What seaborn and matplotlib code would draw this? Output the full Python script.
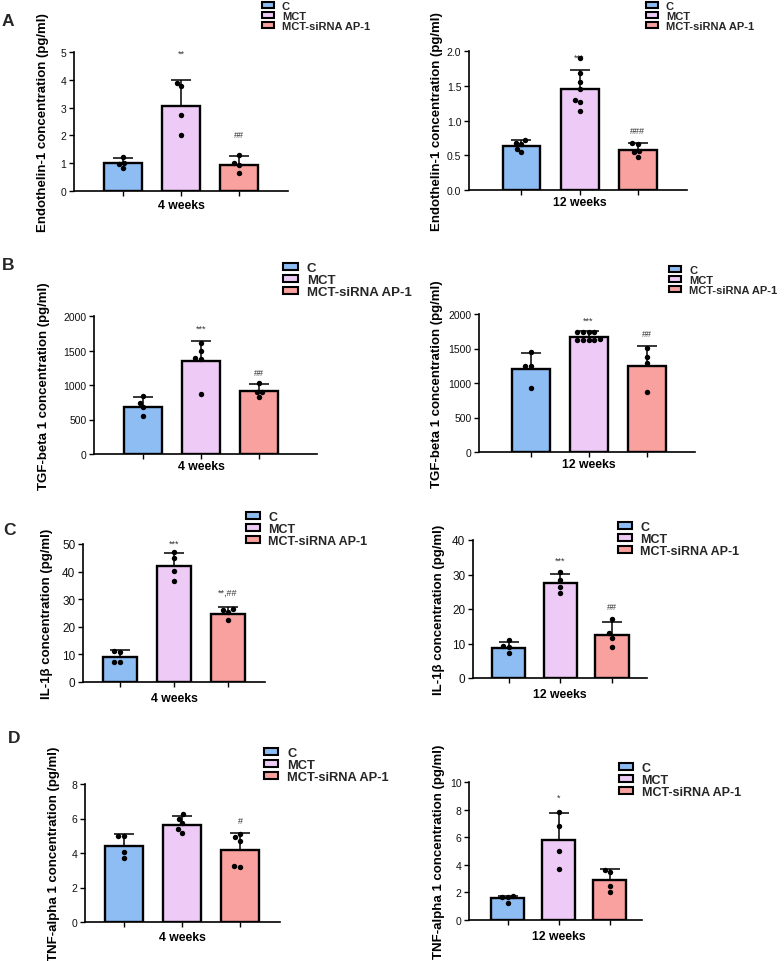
import numpy as np
import pandas as pd
import matplotlib
matplotlib.use("Agg")
import matplotlib.pyplot as plt
import matplotlib.transforms as mtransforms
import seaborn as sns
from matplotlib.patches import Patch
from matplotlib.ticker import FormatStrFormatter, MultipleLocator

sns.set_theme(style="ticks")
plt.rcParams['font.family'] = ['Liberation Sans', 'DejaVu Sans']

# ---------------- data ----------------
groups = ["C", "MCT", "MCT-siRNA AP-1"]
colors = ["#8EBDF4", "#EECBF6", "#F8A19E"]

# A: Endothelin-1, 4 weeks
a1_means = [0.99, 3.06, 0.94]
a1_sd = [0.19, 0.93, 0.33]
a1_pts_c = [1.02, 1.24, 0.96, 0.82]
a1_pts_m = [3.88, 3.76, 2.75, 2.01]
a1_pts_s = [1.30, 1.00, 0.94, 0.66]
a1_marks = ["", "**", "##"]

# A: Endothelin-1, 12 weeks
a2_means = [0.636, 1.455, 0.573]
a2_sd = [0.084, 0.275, 0.097]
a2_pts_c = [0.72, 0.68, 0.59, 0.54, 0.66]
a2_pts_m = [1.90, 1.69, 1.55, 1.45, 1.30, 1.26, 1.13]
a2_pts_s = [0.56, 0.67, 0.54, 0.66, 0.48]
a2_marks = ["", "***", "###"]

# B: TGF-beta 1, 4 weeks
b1_means = [684, 1345, 916]
b1_sd = [135, 294, 101]
b1_pts_c = [834, 737, 675, 554]
b1_pts_m = [1614, 1494, 1398, 1383, 867]
b1_pts_s = [1036, 905, 901, 829]
b1_marks = ["", "***", "##"]

# B: TGF-beta 1, 12 weeks
b2_means = [1210, 1667, 1248]
b2_sd = [231, 82, 285]
b2_pts_c = [1455, 1253, 1250, 930]
b2_pts_m = [1740, 1745, 1742, 1738, 1625, 1630, 1628, 1632, 1626]
b2_pts_s = [1504, 1373, 1292, 867]
b2_marks = ["", "***", "##"]

# C: IL-1beta, 4 weeks
c1_means = [9.08, 42.0, 24.8]
c1_sd = [2.4, 4.7, 2.2]
c1_pts_c = [11.26, 10.9, 7.26, 7.2]
c1_pts_m = [46.97, 44.8, 40.3, 36.7]
c1_pts_s = [26.6, 26.15, 25.4, 22.5]
c1_marks = ["", "***", "**,##"]

# C: IL-1beta, 12 weeks
c2_means = [8.77, 27.47, 12.43]
c2_sd = [1.8, 2.6, 3.7]
c2_pts_c = [10.9, 8.96, 9.16, 7.23]
c2_pts_m = [30.65, 28.5, 26.3, 24.7]
c2_pts_s = [17.0, 13.0, 11.6, 8.96]
c2_marks = ["", "***", "##"]

# D: TNF-alpha 1, 4 weeks
d1_means = [4.38, 5.62, 4.19]
d1_sd = [0.72, 0.54, 0.96]
d1_pts_c = [4.98, 4.97, 4.03, 3.70]
d1_pts_m = [6.26, 6.00, 5.72, 5.40, 5.16]
d1_pts_s = [4.90, 5.10, 4.71, 3.22, 3.21]
d1_marks = ["", "", "#"]

# D: TNF-alpha 1, 12 weeks
d2_means = [1.57, 5.78, 2.89]
d2_sd = [0.19, 1.95, 0.77]
d2_pts_c = [1.71, 1.69, 1.68, 1.20]
d2_pts_m = [7.86, 6.84, 5.01, 3.73]
d2_pts_s = [3.64, 3.45, 2.48, 2.00]
d2_marks = ["", "*", ""]

ylabels = ["Endothelin-1 concentration (pg/ml)", "TGF-beta 1 concentration (pg/ml)",
           "IL-1\u03b2 concentration (pg/ml)", "TNF-alpha 1 concentration (pg/ml)"]
xlabels = ["4 weeks", "12 weeks"]
panel_letters = ["A", "B", "C", "D"]

# ---------------- layout (pixels) ----------------
W, H = 784, 962
fig = plt.figure(figsize=(W / 100, H / 100), dpi=100)
fig.patch.set_facecolor("white")

panels = [
    dict(d=(a1_means, a1_sd, a1_pts_c, a1_pts_m, a1_pts_s, a1_marks), ymax=5, step=1, fmt="%d", yl=0, xl=0,
         box=(74, 53, 288, 192), xlim=(-0.845, 2.845), w=0.655, ylx=49, xlo=14, leg=(262, 2), lfs=8, tfs=7.5, pads=[0, 13, 9]),
    dict(d=(a2_means, a2_sd, a2_pts_c, a2_pts_m, a2_pts_s, a2_marks), ymax=2.0, step=0.5, fmt="%.1f", yl=0, xl=1,
         box=(469, 52, 687, 191), xlim=(-0.905, 2.853), w=0.655, ylx=443, xlo=12, leg=(646, 2), lfs=8, tfs=7.5, pads=[0, 3, 3]),
    dict(d=(b1_means, b1_sd, b1_pts_c, b1_pts_m, b1_pts_s, b1_marks), ymax=2000, step=500, fmt="%d", yl=1, xl=0,
         box=(94, 317, 317, 455), xlim=(-0.845, 3.0), w=0.655, ylx=50, xlo=12, leg=(283, 263), lfs=9.5, tfs=7.5, pads=[0, 3, 2]),
    dict(d=(b2_means, b2_sd, b2_pts_c, b2_pts_m, b2_pts_s, b2_marks), ymax=2000, step=500, fmt="%d", yl=1, xl=1,
         box=(479, 315, 695, 453), xlim=(-0.888, 2.836), w=0.655, ylx=443, xlo=12, leg=(669, 266), lfs=8, tfs=7.5, pads=[0, 2, 3]),
    dict(d=(c1_means, c1_sd, c1_pts_c, c1_pts_m, c1_pts_s, c1_marks), ymax=50, step=10, fmt="%d", yl=2, xl=0,
         box=(83, 545, 265, 683), xlim=(-0.685, 2.685), w=0.63, ylx=53, xlo=16, leg=(246, 512), lfs=9, tfs=8.5, pads=[0, 1, 5]),
    dict(d=(c2_means, c2_sd, c2_pts_c, c2_pts_m, c2_pts_s, c2_marks), ymax=40, step=10, fmt="%d", yl=2, xl=1,
         box=(473, 541, 647, 679), xlim=(-0.686, 2.676), w=0.64, ylx=445, xlo=16, leg=(618, 522), lfs=9, tfs=8.5, pads=[0, 4, 5]),
    dict(d=(d1_means, d1_sd, d1_pts_c, d1_pts_m, d1_pts_s, d1_marks), ymax=8, step=2, fmt="%d", yl=3, xl=0,
         box=(85, 785, 280, 923), xlim=(-0.672, 2.69), w=0.655, ylx=60, xlo=15, leg=(264, 748), lfs=9.3, tfs=7.5, pads=[0, 3, 3]),
    dict(d=(d2_means, d2_sd, d2_pts_c, d2_pts_m, d2_pts_s, d2_marks), ymax=10, step=2, fmt="%d", yl=3, xl=1,
         box=(469, 783, 642, 921), xlim=(-0.755, 2.637), w=0.647, ylx=445, xlo=16, leg=(619, 763), lfs=9, tfs=7.5, pads=[0, 5, 3]),
]

letter_pos = [(2, 21), (2, 266), (3, 531), (8, 739)]


def add_px_axes(l, t, r, b):
    return fig.add_axes([l / W, 1 - b / H, (r - l) / W, (b - t) / H])


for i, p in enumerate(panels):
    means, sds, pc, pm, ps, marks = p["d"]
    l, t, r, b = p["box"]
    ax = add_px_axes(l, t, r, b)
    ax.set_facecolor("white")

    bar_df = pd.DataFrame({"group": groups, "value": means})
    sns.barplot(data=bar_df, x="group", y="value", hue="group", order=groups, hue_order=groups,
                palette=colors, saturation=1, width=p["w"], edgecolor="black", linewidth=1.7,
                errorbar=None, legend=False, ax=ax, zorder=1)

    xs = np.arange(len(groups))
    ax.errorbar(xs, means, yerr=[np.zeros(len(groups)), sds], fmt="none", ecolor="black",
                elinewidth=1.1, capsize=7.5, capthick=1.1, zorder=3)

    pts_df = pd.DataFrame({
        "group": [groups[0]] * len(pc) + [groups[1]] * len(pm) + [groups[2]] * len(ps),
        "value": list(pc) + list(pm) + list(ps),
    })
    sns.swarmplot(data=pts_df, x="group", y="value", order=groups, color="black",
                  size=3.9, ax=ax, zorder=4)

    for k in range(len(groups)):
        if marks[k]:
            ax.annotate(marks[k], xy=(xs[k], means[k] + sds[k]), xytext=(0, 3 + p["pads"][k]),
                        textcoords="offset points", ha="center", va="bottom",
                        fontsize=6.5, color="#333333")

    ax.set_xlim(*p["xlim"])
    ax.set_ylim(0, p["ymax"])
    ax.yaxis.set_major_locator(MultipleLocator(p["step"]))
    ax.yaxis.set_major_formatter(FormatStrFormatter(p["fmt"]))
    ax.set_xticks(xs)
    ax.set_xticklabels(["", "", ""])
    for s in ["top", "right"]:
        ax.spines[s].set_visible(False)
    for s in ["left", "bottom"]:
        ax.spines[s].set_color("black")
        ax.spines[s].set_linewidth(1.2)
    ax.tick_params(axis="both", direction="out", length=3.5, width=1.0, color="black",
                   labelsize=p["tfs"], labelcolor="#111111", pad=2)

    ax.set_ylabel(ylabels[p["yl"]], fontsize=9.5, fontweight="bold", color="black")
    ax.yaxis.set_label_coords((p["ylx"] - l) / (r - l), 0.5)

    ax.set_xlabel(xlabels[p["xl"]], fontsize=8.8, fontweight="bold", color="black")
    trans = mtransforms.blended_transform_factory(ax.transData, ax.transAxes)
    ax.xaxis.set_label_coords(1, -p["xlo"] / (b - t), transform=trans)
    ax.xaxis.label.set_va("center")

    handles = [Patch(facecolor=c, edgecolor="black", linewidth=1.5) for c in colors]
    lx, ly = p["leg"]
    fig.legend(handles, groups, loc="upper left", bbox_to_anchor=(lx / W, 1 - ly / H),
               frameon=False, borderpad=0, borderaxespad=0, handlelength=1.1,
               handleheight=0.45, handletextpad=0.7, labelspacing=0.0,
               prop={"weight": "bold", "size": p["lfs"]})

for letter, (x, y) in zip(panel_letters, letter_pos):
    fig.text(x / W, 1 - y / H, letter, fontsize=12.5, fontweight="bold", ha="left", va="center")

fig.savefig("out.png", dpi=100, facecolor="white")
